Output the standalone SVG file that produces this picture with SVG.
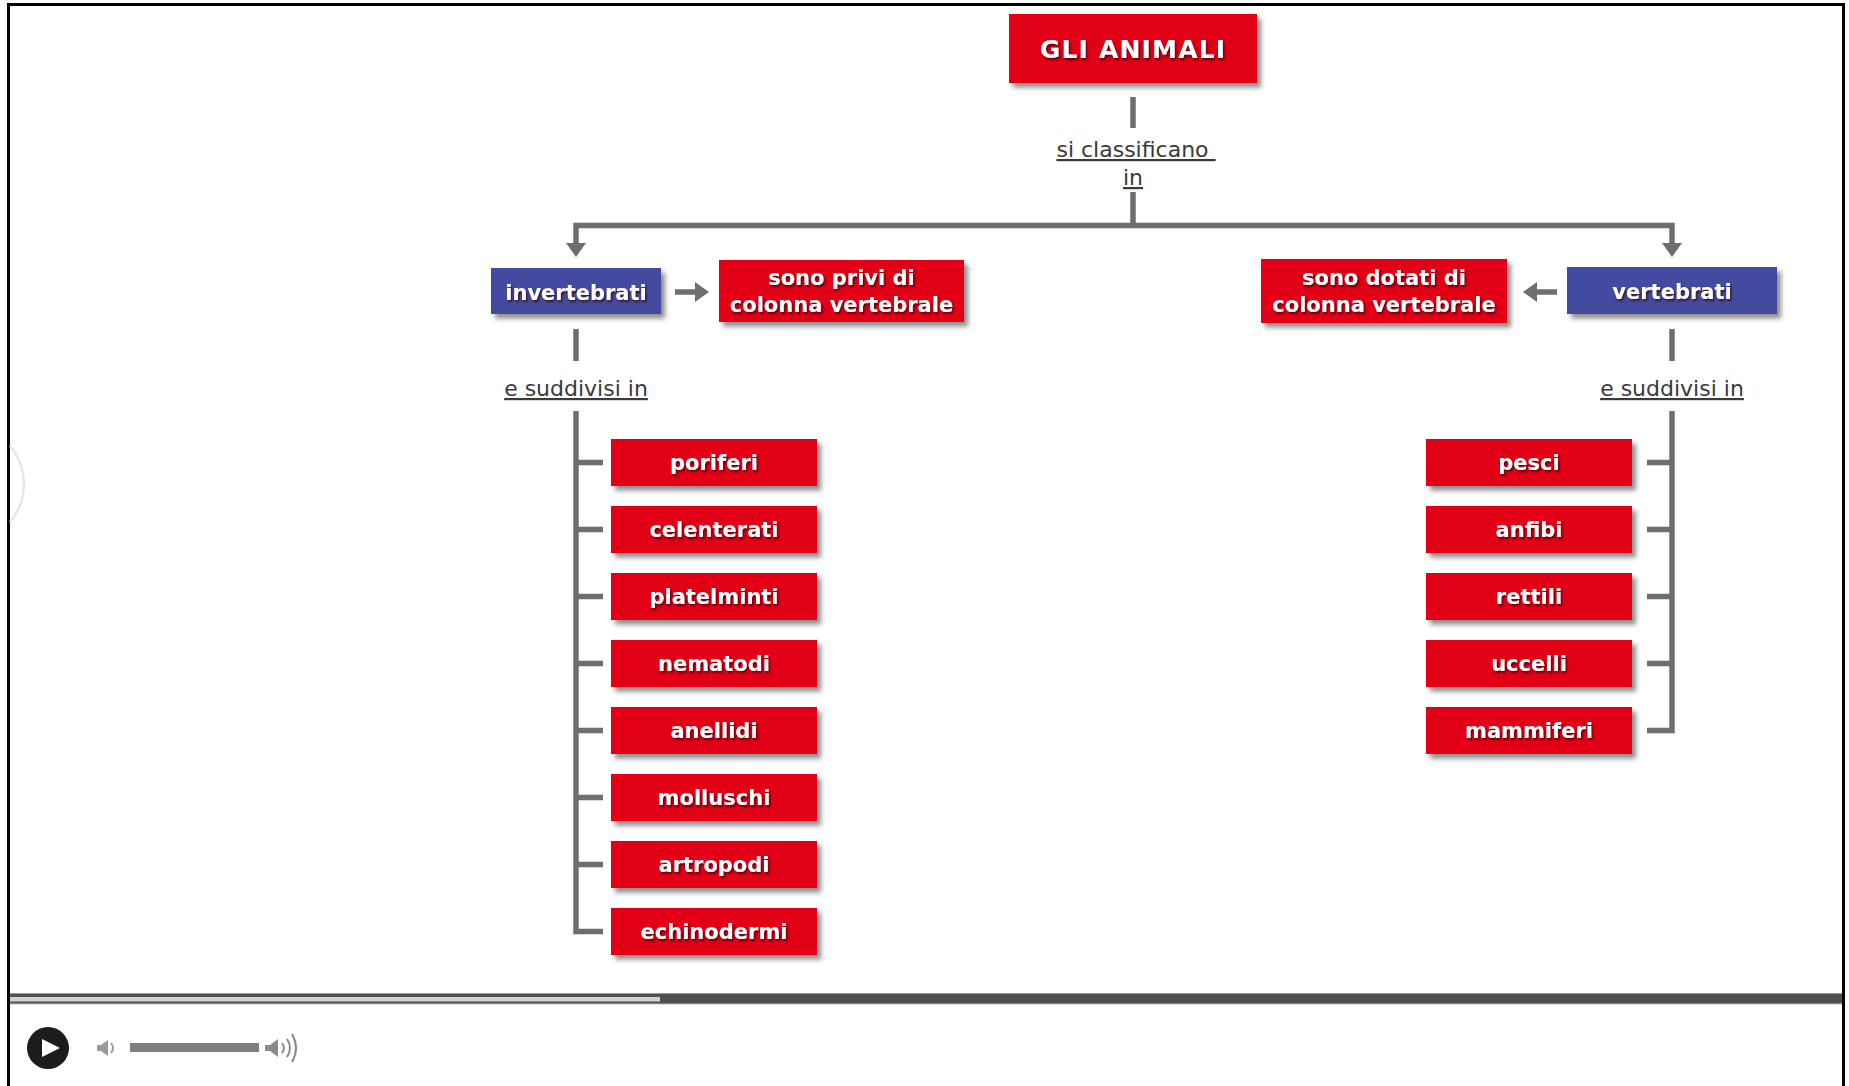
<svg xmlns="http://www.w3.org/2000/svg" width="1849" height="1086" viewBox="0 0 1849 1086">
<style>
.red{fill:#e10016}
.blue{fill:#434c9f}
.box{filter:url(#bs)}
.bt{font-family:"DejaVu Sans",Verdana,sans-serif;font-weight:bold;font-size:21px;fill:#ffffff;text-anchor:middle;filter:url(#ts)}
.lab{font-family:"DejaVu Sans",Verdana,sans-serif;font-size:22px;fill:#3a3a3a;text-anchor:middle;text-decoration:underline;white-space:pre}
.con{fill:none;stroke:#6e6e6e;stroke-width:5.5;stroke-linejoin:miter}
.arr{marker-end:url(#ah)}
</style>
<defs>
<filter id="bs" x="-10%" y="-20%" width="125%" height="150%">
<feDropShadow dx="4" dy="4.5" stdDeviation="2.5" flood-color="#000" flood-opacity="0.45"/>
</filter>
<filter id="ts" x="-10%" y="-30%" width="125%" height="170%">
<feDropShadow dx="1.5" dy="2" stdDeviation="1.2" flood-color="#3a0000" flood-opacity="0.75"/>
</filter>
<marker id="ah" viewBox="0 0 14 20" refX="4" refY="10" markerWidth="14" markerHeight="20" markerUnits="userSpaceOnUse" orient="auto">
<path d="M0,0 L14,10 L0,20 Z" fill="#6e6e6e"/>
</marker>
</defs>
<rect x="0" y="0" width="1849" height="1086" fill="#ffffff"/>
<g id="frame">
<path d="M7,4.5 H1845" stroke="#000" stroke-width="3" fill="none"/>
<path d="M8.5,3 V1086" stroke="#000" stroke-width="3" fill="none"/>
<path d="M1843.5,3 V1086" stroke="#000" stroke-width="3" fill="none"/>
<path d="M10,446 A59,59 0 0 1 10,522" stroke="#e6e6e6" stroke-width="2.5" fill="none"/>
</g>
<g id="connectors">
<path class="con" d="M1133,97 V128"/>
<path class="con" d="M1133,192 V225.5"/>
<path class="con arr" d="M1133,225.5 H576 V247"/>
<path class="con arr" d="M1133,225.5 H1672 V247"/>
<path class="con arr" d="M675,292 H699"/>
<path class="con arr" d="M1557,292 H1533"/>
<path class="con" d="M576,329 V361"/>
<path class="con" d="M1672,329 V361"/>
<path class="con" d="M576,411 V931.5 H603"/>
<path class="con" d="M576,462.5 H603 M576,529.5 H603 M576,596.5 H603 M576,663.5 H603 M576,730.5 H603 M576,797.5 H603 M576,864.5 H603"/>
<path class="con" d="M1672,411 V730.5 H1647"/>
<path class="con" d="M1672,462.5 H1647 M1672,529.5 H1647 M1672,596.5 H1647 M1672,663.5 H1647"/>
</g>
<g id="labels">
<text class="lab" x="1136" y="157" xml:space="preserve">si classificano </text>
<text class="lab" x="1133" y="185">in</text>
<text class="lab" x="576" y="396">e suddivisi in</text>
<text class="lab" x="1672" y="396">e suddivisi in</text>
</g>
<g id="gli-animali">
<rect class="red box" x="1009" y="14" width="248" height="69"/>
<text class="bt" x="1133" y="58" style="font-size:25px;letter-spacing:1.2px">GLI ANIMALI</text>
</g>
<g id="invertebrati">
<rect class="blue box" x="491" y="268" width="170" height="46"/>
<text class="bt" x="576" y="300">invertebrati</text>
</g>
<g id="privi">
<rect class="red box" x="719" y="260" width="245" height="62"/>
<text class="bt" x="841.5" y="285">sono privi di</text>
<text class="bt" x="841.5" y="312">colonna vertebrale</text>
</g>
<g id="vertebrati">
<rect class="blue box" x="1567" y="267" width="210" height="47"/>
<text class="bt" x="1672" y="299">vertebrati</text>
</g>
<g id="dotati">
<rect class="red box" x="1261" y="259" width="246" height="64"/>
<text class="bt" x="1384" y="285">sono dotati di</text>
<text class="bt" x="1384" y="312">colonna vertebrale</text>
</g>
<g id="poriferi"><rect class="red box" x="611" y="439" width="206" height="47"/><text class="bt" x="714" y="470">poriferi</text></g>
<g id="celenterati"><rect class="red box" x="611" y="506" width="206" height="47"/><text class="bt" x="714" y="537">celenterati</text></g>
<g id="platelminti"><rect class="red box" x="611" y="573" width="206" height="47"/><text class="bt" x="714" y="604">platelminti</text></g>
<g id="nematodi"><rect class="red box" x="611" y="640" width="206" height="47"/><text class="bt" x="714" y="671">nematodi</text></g>
<g id="anellidi"><rect class="red box" x="611" y="707" width="206" height="47"/><text class="bt" x="714" y="738">anellidi</text></g>
<g id="molluschi"><rect class="red box" x="611" y="774" width="206" height="47"/><text class="bt" x="714" y="805">molluschi</text></g>
<g id="artropodi"><rect class="red box" x="611" y="841" width="206" height="47"/><text class="bt" x="714" y="872">artropodi</text></g>
<g id="echinodermi"><rect class="red box" x="611" y="908" width="206" height="47"/><text class="bt" x="714" y="939">echinodermi</text></g>
<g id="pesci"><rect class="red box" x="1426" y="439" width="206" height="47"/><text class="bt" x="1529" y="470">pesci</text></g>
<g id="anfibi"><rect class="red box" x="1426" y="506" width="206" height="47"/><text class="bt" x="1529" y="537">anfibi</text></g>
<g id="rettili"><rect class="red box" x="1426" y="573" width="206" height="47"/><text class="bt" x="1529" y="604">rettili</text></g>
<g id="uccelli"><rect class="red box" x="1426" y="640" width="206" height="47"/><text class="bt" x="1529" y="671">uccelli</text></g>
<g id="mammiferi"><rect class="red box" x="1426" y="707" width="206" height="47"/><text class="bt" x="1529" y="738">mammiferi</text></g>
<g id="player">
<rect x="10" y="993" width="1832" height="11" fill="#505050"/>
<rect x="10" y="993" width="1832" height="1" fill="#9a9a9a"/>
<rect x="10" y="1003.5" width="1832" height="1" fill="#bdbdbd"/>
<rect x="10" y="997" width="650" height="4.5" fill="#d2d2d2"/>
<circle cx="48" cy="1048" r="21" fill="#1c1c1f"/>
<path d="M42,1039 L60,1048 L42,1057 Z" fill="#ffffff"/>
<path d="M97,1045 H101 L108,1040 V1056 L101,1051 H97 Z" fill="#9a9a9a"/>
<path d="M111,1043 Q115,1048 111,1053" stroke="#9a9a9a" stroke-width="2" fill="none"/>
<rect x="130" y="1043" width="129" height="9" fill="#7f7f7f"/>
<path d="M265,1045 H270 L278,1039 V1057 L270,1051 H265 Z" fill="#8a8a8a"/>
<path d="M282,1043 Q286,1048 282,1053" stroke="#8a8a8a" stroke-width="2" fill="none"/>
<path d="M287,1039 Q293,1048 287,1057" stroke="#8a8a8a" stroke-width="2" fill="none"/>
<path d="M292,1034 Q300,1048 292,1062" stroke="#8a8a8a" stroke-width="2" fill="none"/>
</g>
</svg>
